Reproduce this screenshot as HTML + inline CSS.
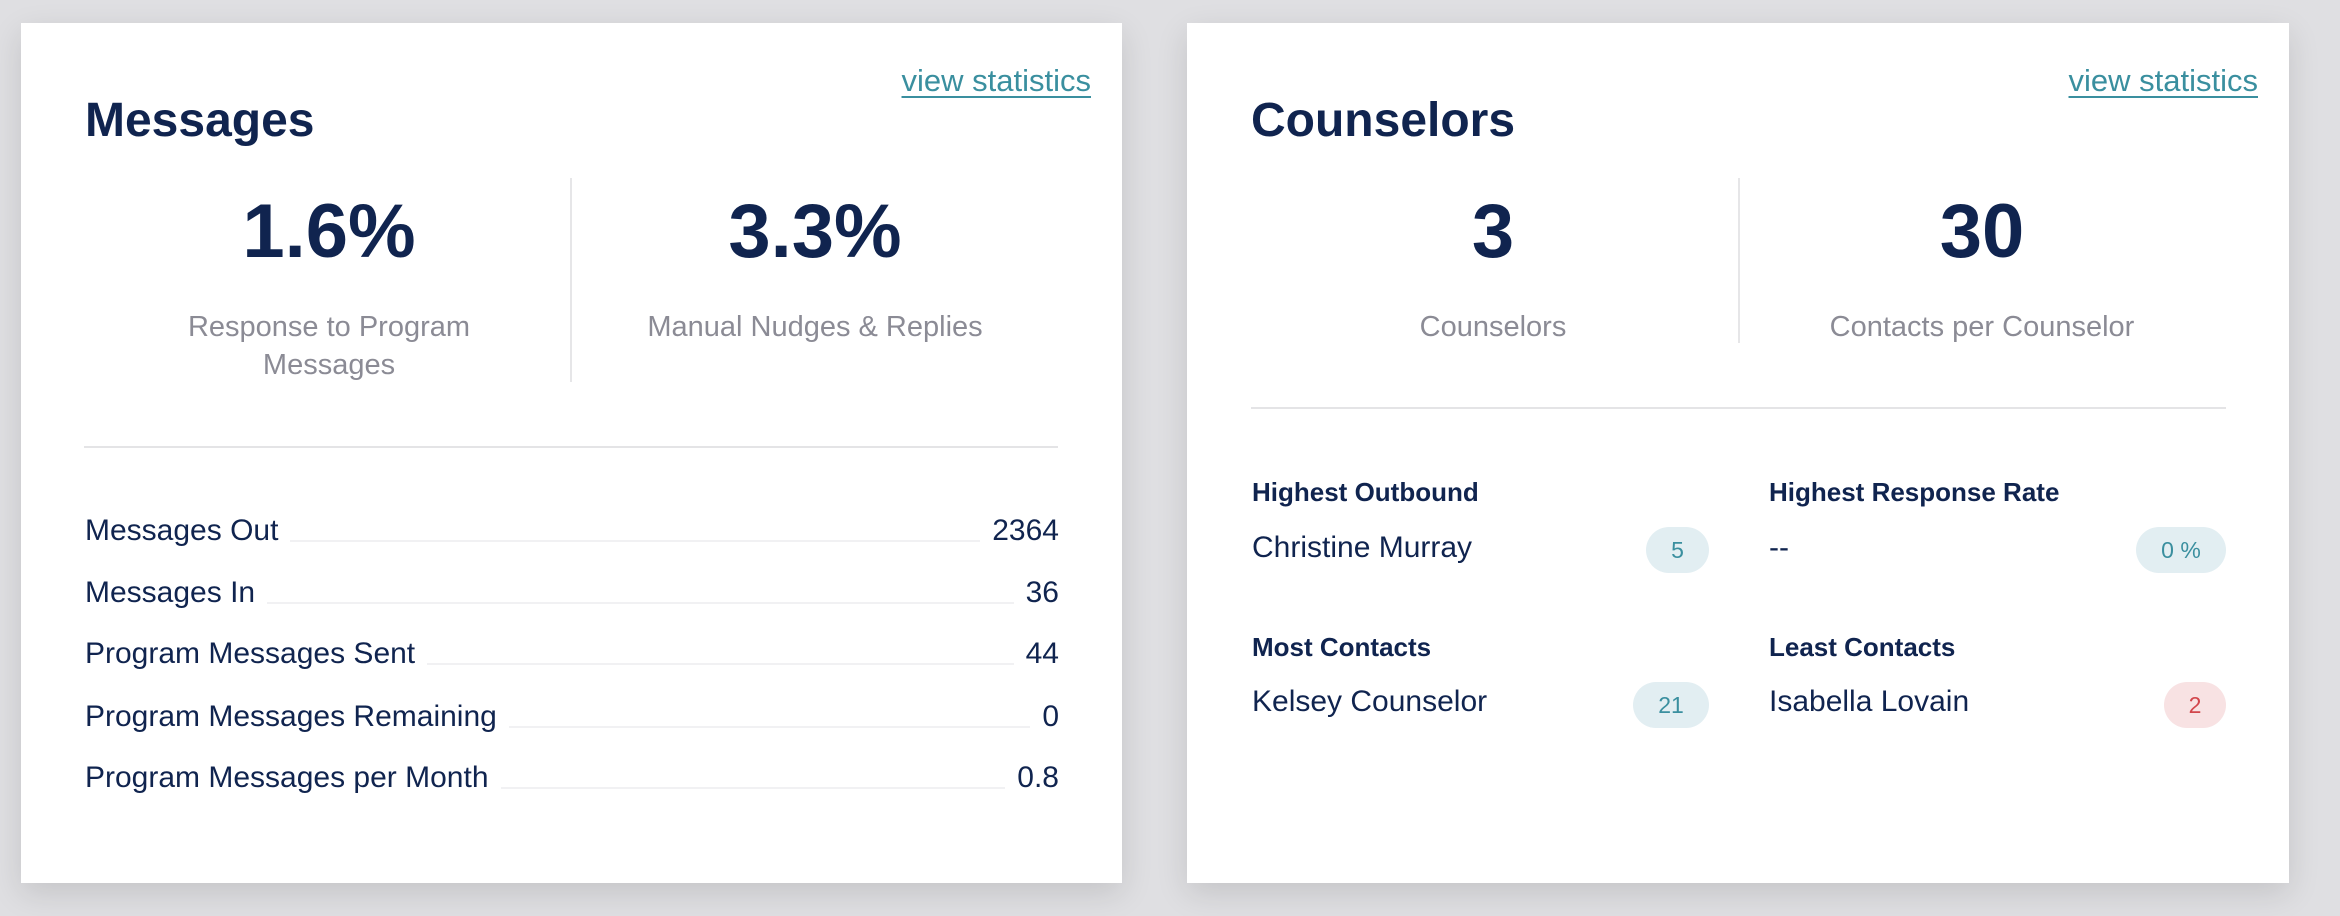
<!DOCTYPE html>
<html><head><meta charset="utf-8"><style>
*{margin:0;padding:0;box-sizing:border-box}
body{width:2340px;height:916px;background:#dfdfe2;position:relative;overflow:hidden;font-family:"Liberation Sans",sans-serif;color:#10244f}
.card{position:absolute;top:23px;height:860px;background:#fff;box-shadow:0 10px 30px rgba(0,0,0,0.12)}
.a{position:absolute;white-space:nowrap}
.link{color:#3a8f9f;text-decoration:underline;text-decoration-thickness:2px;text-underline-offset:5px;font-size:31px;right:31px;top:40px}
.title{font-size:48px;font-weight:bold;left:64px;top:70px}
.big{font-size:76px;font-weight:bold;top:165px;text-align:center;width:460px}
.lbl{font-size:29px;color:#8b8b95;text-align:center;width:460px;line-height:38px;top:285px}
.vd{position:absolute;width:2px;background:#e6e6e8}
.hr{position:absolute;height:2px;background:#e4e4e6}
.row{position:absolute;left:64px;width:974px;height:40px;display:flex;align-items:flex-end;font-size:30px}
.row .dots{flex:1;border-bottom:2px solid #f1f1f3;margin:0 12px 6px 12px}
.h{font-size:26px;font-weight:bold}
.n{font-size:30px}
.badge{position:absolute;height:46px;border-radius:23px;background:#e2eef2;color:#3a8f9f;font-size:23px;display:flex;align-items:center;justify-content:center}
</style></head><body>
<div class="card" style="left:21px;width:1101px">
  <div class="a link">view statistics</div>
  <div class="a title">Messages</div>
  <div class="a big" style="left:78px">1.6%</div>
  <div class="a big" style="left:564px">3.3%</div>
  <div class="a lbl" style="left:78px">Response to Program<br>Messages</div>
  <div class="a lbl" style="left:564px">Manual Nudges &amp; Replies</div>
  <div class="vd" style="left:549px;top:155px;height:204px"></div>
  <div class="hr" style="left:63px;top:423px;width:974px"></div>
  <div class="row" style="top:485px"><span>Messages Out</span><span class="dots"></span><span>2364</span></div>
  <div class="row" style="top:547px"><span>Messages In</span><span class="dots"></span><span>36</span></div>
  <div class="row" style="top:608px"><span>Program Messages Sent</span><span class="dots"></span><span>44</span></div>
  <div class="row" style="top:671px"><span>Program Messages Remaining</span><span class="dots"></span><span>0</span></div>
  <div class="row" style="top:732px"><span>Program Messages per Month</span><span class="dots"></span><span>0.8</span></div>
</div>
<div class="card" style="left:1187px;width:1102px">
  <div class="a link">view statistics</div>
  <div class="a title">Counselors</div>
  <div class="a big" style="left:76px">3</div>
  <div class="a big" style="left:565px">30</div>
  <div class="a lbl" style="left:76px">Counselors</div>
  <div class="a lbl" style="left:565px">Contacts per Counselor</div>
  <div class="vd" style="left:551px;top:155px;height:165px"></div>
  <div class="hr" style="left:64px;top:384px;width:975px"></div>
  <div class="a h" style="left:65px;top:454px">Highest Outbound</div>
  <div class="a h" style="left:582px;top:454px">Highest Response Rate</div>
  <div class="a n" style="left:65px;top:508px">Christine Murray</div>
  <div class="a n" style="left:582px;top:508px">--</div>
  <div class="badge" style="left:459px;top:504px;width:63px">5</div>
  <div class="badge" style="left:949px;top:504px;width:90px">0 %</div>
  <div class="a h" style="left:65px;top:609px">Most Contacts</div>
  <div class="a h" style="left:582px;top:609px">Least Contacts</div>
  <div class="a n" style="left:65px;top:662px">Kelsey Counselor</div>
  <div class="a n" style="left:582px;top:662px">Isabella Lovain</div>
  <div class="badge" style="left:446px;top:659px;width:76px">21</div>
  <div class="badge" style="left:977px;top:659px;width:62px;background:#f8e2e3;color:#d2464c">2</div>
</div>
</body></html>
